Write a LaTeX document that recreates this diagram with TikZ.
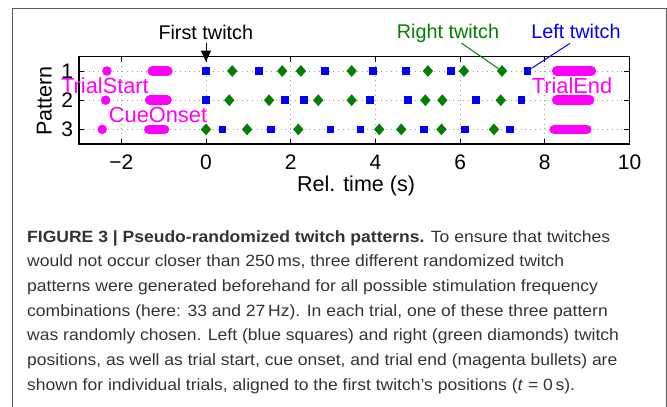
\documentclass[tikz,border=0pt]{standalone}
\usepackage{fontspec}
\usetikzlibrary{shapes.geometric,arrows.meta}
\newfontfamily\pfont{Liberation Sans}
\newfontfamily\capfont[FakeStretch=1.075]{Liberation Sans}
\definecolor{mblue}{HTML}{0000FF}
\definecolor{mgreen}{HTML}{007F00}
\definecolor{mmag}{HTML}{FF00FF}
\definecolor{framecol}{HTML}{5A5A5A}
\definecolor{captext}{HTML}{333333}
\tikzset{
  sq/.style={shape=rectangle,fill=mblue,minimum size=7.7pt,inner sep=0pt},
  dm/.style={shape=diamond,fill=mgreen,minimum width=10.5pt,minimum height=12pt,inner sep=0pt},
  mdot/.style={shape=circle,fill=mmag,minimum size=9.5pt,inner sep=0pt},
  mbar/.style={draw=mmag,line width=9.5pt,line cap=round},
  gridln/.style={draw=gray!75,line width=0.7pt,dash pattern=on 0.8pt off 4pt},
  tickln/.style={draw=black,line width=0.9pt},
  ticklab/.style={font=\pfont\fontsize{21}{24}\selectfont,inner sep=0pt},
  axlab/.style={font=\pfont\fontsize{21.5}{24}\selectfont,inner sep=0pt},
  annot/.style={font=\pfont\fontsize{19.8}{23}\selectfont,inner sep=0pt,anchor=base},
  maglab/.style={font=\pfont\fontsize{21.8}{24}\selectfont,inner sep=0pt,anchor=base,text=mmag},
  capline/.style={font=\capfont\fontsize{16.3}{20}\selectfont,text=captext,inner sep=0pt,anchor=base west},
}
\begin{document}
\begin{tikzpicture}
\useasboundingbox (0,0) rectangle (667pt,-407pt);
% frame
\draw[framecol,line width=1pt] (12pt,-407pt) -- (12pt,-8pt) -- (666pt,-8pt) -- (666pt,-407pt);
\begin{scope}[x=42.35pt,y=-29.2pt,shift={(206pt,-41.8pt)}]
  % grid
  \foreach \t in {-2,0,2,4,6,8} \draw[gridln] (\t,0.5) -- (\t,3.5);
  \foreach \r in {1,2,3} \draw[gridln] (-3,\r) -- (10,\r);
  % ticks
  \foreach \t in {-2,0,2,4,6,8} {
    \draw[tickln] (\t,3.5) -- ++(0,5.5pt);
    \draw[tickln] (\t,0.5) -- ++(0,-5.5pt);
  }
  \foreach \r in {1,2,3} {
    \draw[tickln] (-3,\r) -- ++(5.5pt,0);
    \draw[tickln] (10,\r) -- ++(-5.5pt,0);
  }
  % axis box
  \draw[black,line width=1.3pt] (-3,0.5) rectangle (10,3.5);
  % tick labels
  \foreach \t/\lab [count=\i] in {-2/−2,0/0,2/2,4/4,6/6,8/8,10/10}
    \node[ticklab,anchor=base] (xt\i) at ([yshift=-25.3pt]\t,3.5) {\lab};
  \foreach \r in {1,2,3}
    \node[ticklab,anchor=east] (yt\r) at ([xshift=-5.7pt]-3,\r) {\r};
  % magenta events
  \node[mdot] (ts1) at (-2.34,1) {};
  \node[mdot] (ts2) at (-2.37,2) {};
  \node[mdot] (ts3) at (-2.45,3) {};
  \draw[mbar] (-1.27,1) -- (-0.90,1);
  \draw[mbar] (-1.33,2) -- (-0.92,2);
  \draw[mbar] (-1.35,3) -- (-0.98,3);
  \draw[mbar] (8.28,1) -- (9.10,1);
  \draw[mbar] (8.28,2) -- (9.06,2);
  \draw[mbar] (8.22,3) -- (8.99,3);
  % left twitches (blue squares)
  \foreach \t [count=\i] in {0,1.25,2.81,3.95,4.73,5.79,7.59} \node[sq] (La\i) at (\t,1) {};
  \foreach \t [count=\i] in {0,1.86,2.31,3.87,4.77,6.37,7.45} \node[sq] (Lb\i) at (\t,2) {};
  \foreach \t [count=\i] in {0.39,1.53,2.94,3.65,5.14,6.12,7.17} \node[sq] (Lc\i) at (\t,3) {};
  % right twitches (green diamonds)
  \foreach \t [count=\i] in {0.62,1.80,2.24,3.44,5.24,6.09,6.99} \node[dm] (Ra\i) at (\t,1) {};
  \foreach \t [count=\i] in {0.55,1.49,2.65,3.44,5.18,5.58,6.96} \node[dm] (Rb\i) at (\t,2) {};
  \foreach \t [count=\i] in {0,0.97,2.18,4.09,4.61,5.56,6.80} \node[dm] (Rc\i) at (\t,3) {};
  \coordinate (ftip) at (0,0.68);
\end{scope}
% axis labels
\node[axlab,anchor=base] (xlab) at (356pt,-191.7pt) {Rel. time (s)};
\node[axlab,anchor=base,rotate=90] (ylab) at (51.7pt,-101pt) {Pattern};
% annotations
\node[annot] (ft) at (205.8pt,-39.3pt) {First twitch};
\node[annot,text=mgreen] (rt) at (448pt,-38.3pt) {Right twitch};
\node[annot,text=mblue] (lt) at (576pt,-38.3pt) {Left twitch};
\coordinate (ftA) at (206pt,-43.3pt);
\coordinate (rtA) at (461.7pt,-43.3pt);
\coordinate (ltA) at (570pt,-43.3pt);
\draw[black,line width=1pt,-{Triangle[length=11pt,width=10pt]}] (ftA) -- (ftip);
\draw[mgreen,line width=1pt] (rtA) -- (Ra7);
\draw[mblue,line width=1pt] (ltA) -- (La7);
% magenta labels
\node[maglab] (tsl) at (105pt,-93.3pt) {TrialStart};
\node[maglab] (col) at (158pt,-122.7pt) {CueOnset};
\node[maglab] (tel) at (572pt,-93.3pt) {TrialEnd};
% caption
\node[capline] (c1) at (27pt,-242pt) {\textbf{FIGURE 3 | Pseudo-randomized twitch patterns.} To ensure that twitches};
\node[capline] (c2) at (27pt,-266.7pt) {would not occur closer than 250\,ms, three different randomized twitch};
\node[capline] (c3) at (27pt,-291.3pt) {patterns were generated beforehand for all possible stimulation frequency};
\node[capline] (c4) at (27pt,-316pt) {combinations (here: 33 and 27\,Hz). In each trial, one of these three pattern};
\node[capline] (c5) at (27pt,-340.7pt) {was randomly chosen. Left (blue squares) and right (green diamonds) twitch};
\node[capline] (c6) at (27pt,-365.3pt) {positions, as well as trial start, cue onset, and trial end (magenta bullets) are};
\node[capline] (c7) at (27pt,-390pt) {shown for individual trials, aligned to the first twitch’s positions (\textit{t} = 0\,s).};
\end{tikzpicture}
\end{document}
